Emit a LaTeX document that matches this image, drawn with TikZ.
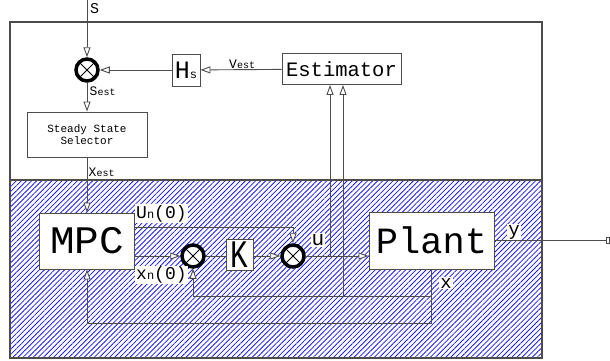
\documentclass[tikz,border=0pt]{standalone}
\usepackage{fontspec}
\newfontfamily\cad{Liberation Mono}
\usetikzlibrary{arrows.meta,patterns.meta}
\definecolor{ln}{gray}{0.3}
\definecolor{hatchc}{rgb}{0.1,0.1,1}
\newcommand\csz[2]{{\fontsize{#1}{#1}\selectfont #2}}
\begin{document}
\begin{tikzpicture}[x=1pt,y=-1pt,font=\cad,
  box/.style={draw=ln,line width=0.9pt,fill=white,inner sep=0pt},
  sumnode/.style={circle,draw=black,line width=3.5pt,fill=white,minimum size=22pt,inner sep=0pt,
    path picture={\draw[line width=0.8pt,black] (path picture bounding box.north west) -- (path picture bounding box.south east)
      (path picture bounding box.south west) -- (path picture bounding box.north east);}},
  lbl/.style={fill=white,inner sep=1pt},
  tag/.style={inner sep=0pt},
  conn/.style={draw=ln,line width=0.9pt},
  arr/.style={conn,-{Triangle[length=10pt,width=7pt,fill=white]}}]
\useasboundingbox (0,0) rectangle (610,360);
% hatched lower region
\fill[pattern={Lines[angle=45,distance=3.6pt,line width=0.8pt]},pattern color=hatchc] (10,180) rectangle (542,358);
% blocks
\node[sumnode] (sum1) at (87,70) {};
\node[box,minimum width=28pt,minimum height=32pt] (hs) at (186,70) {\csz{25}{H}\csz{12}{s}};
\node[box,minimum width=119pt,minimum height=31pt] (est) at (341.5,69) {\csz{20.5}{Estimator}};
\node[box,minimum width=120pt,minimum height=45pt,align=center,font=\cad\fontsize{11}{11.5}\selectfont] (sss) at (87,134.5) {Steady State\\Selector};
\node[box,minimum width=95pt,minimum height=56pt] (mpc) at (87,241) {\scalebox{1.05}[1]{\csz{39}{MPC}}};
\node[sumnode] (sum2) at (193,256) {};
\node[box,minimum width=27pt,minimum height=31pt] (k) at (239.5,255) {\scalebox{0.75}[1]{\csz{39}{K}}};
\node[sumnode] (sum3) at (293,256) {};
\node[box,minimum width=125pt,minimum height=57pt] (plant) at (431.5,240.5) {\csz{37}{Plant}};
% labels
\node[tag,anchor=west] (ls) at (90,9) {\csz{15}{S}};
\node[tag,anchor=base west] (lsest) at (89.5,95) {\csz{13}{S}\csz{10}{est}};
\node[tag,anchor=base west] (lxest) at (88.5,176) {\csz{13}{X}\csz{10}{est}};
\node[tag,anchor=base west] (lvest) at (229,68) {\csz{13}{V}\csz{10}{est}};
\node[lbl,anchor=west] (lun) at (135,213.5) {\csz{18}{U}\csz{12}{n}\csz{18}{(0)}};
\node[lbl,anchor=west] (lxn) at (135,275) {\csz{18}{x}\csz{12}{n}\csz{18}{(0)}};
\node[lbl] (lu) at (318,240) {\csz{21}{u}};
\node[lbl] (lx) at (446,283) {\csz{19}{x}};
\node[lbl] (ly) at (514,232) {\csz{19}{y}};
% connectors
\coordinate (s0) at (87,0);
\coordinate (ub) at (330,256);
\coordinate (xc) at (plant.south |- 0,323);
\coordinate (xb) at (plant.south |- 0,296);
\coordinate (eb) at (343,296);
\coordinate (yend) at (610,240.5);
\draw[arr] (s0) -- (sum1);
\draw[arr] (est) -- (hs);
\draw[arr] (hs) -- (sum1);
\draw[arr] (sum1) -- (sss);
\draw[arr] (sss) -- (mpc);
\draw[arr] (mpc.east |- 0,227) -| (sum3);
\draw[arr] (mpc.east |- sum2) -- (sum2);
\draw[conn] (sum2) -- (k.west |- sum2);
\draw[arr] (k.east |- sum3) -- (sum3);
\draw[arr] (sum3) -- (plant.west |- sum3);
\draw[arr] (ub) -- (est.south -| ub);
\draw[conn,-{Rectangle[open,length=4pt,width=7pt]}] (plant.east) -- (yend);
\draw[arr] (plant.south) -- (xc) -| (mpc.south);
\draw[arr] (xb) -| (sum2);
\draw[arr] (eb) -- (est.south -| eb);
% frame
\draw[ln,line width=1.2pt] (10,22) rectangle (542,358);
\draw[ln,line width=1.2pt] (10,180) -- (542,180);
\end{tikzpicture}
\end{document}
